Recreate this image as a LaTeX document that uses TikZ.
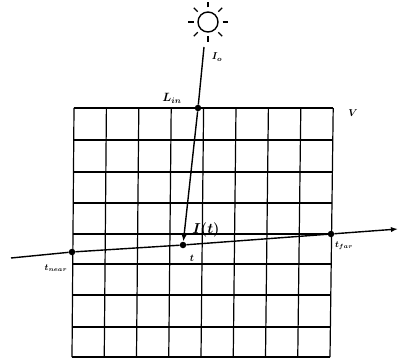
\documentclass[tikz,border=0pt]{standalone}
\usepackage{tikz}
\usetikzlibrary{arrows.meta,positioning,calc}

\begin{document}
\begin{tikzpicture}[x=1pt,y=-1pt, every node/.style={font=\small\boldmath,inner sep=0pt}, dot/.style={circle,fill=black,minimum size=6.5pt}, sun/.style={draw,circle,line width=1.4pt,minimum size=20pt}, grid line/.style={line width=1.2pt}, ray/.style={line width=1.4pt}, arr/.style={-{Latex[length=2.5mm]},line width=1.4pt}]
\useasboundingbox (0,0) rectangle (398,358);
% volume grid
\foreach \i in {0,...,8} \draw[grid line] ({74+32.4*\i},108) -- ({72+32.25*\i},357);
\foreach \j/\y in {0/108,1/140,2/172,3/203,4/234,5/264,6/295,7/327,8/357} \draw[grid line] ({74-2*(\y-108)/249},\y) -- ({333-3*(\y-108)/249},\y);
% light source
\node[sun] (sol) at (208,22) {};
\foreach \a in {0,45,...,315} \draw[line width=1.4pt] ($(sol)+(\a:14.5)$) -- ($(sol)+(\a:20)$);
\coordinate (src) at (204,47);
\node[dot] (lin) at (198,108) {};
\node[dot] (tt) at (183,245) {};
\node[dot] (tnear) at (72,252) {};
\node[dot] (tfar) at (331,234) {};
\coordinate (start) at (11,258);
\coordinate (end) at (398,229);
\draw[ray] (src) -- (lin);
\draw[arr] (lin) -- (tt);
\draw[ray] (start) -- (tnear); \draw[ray] (tnear) -- (tt); \draw[ray] (tt) -- (tfar); \draw[arr] (tfar) -- (end);
% labels
\node[font=\normalsize\boldmath] (i0) at (217,57) {$I_o$};
\node[font=\large\boldmath] (llin) at (172,98) {$L_{in}$};
\node[font=\Large\boldmath] (it) at (206,230) {$I(t)$};
\node[font=\normalsize\boldmath] (tl) at (192,258) {$t$};
\node (tnl) at (56,268) {$t_{near}$};
\node (tfl) at (344,246) {$t_{far}$};
\node[font=\normalsize\boldmath] (v) at (353,113) {$V$};
\end{tikzpicture}
\end{document}
